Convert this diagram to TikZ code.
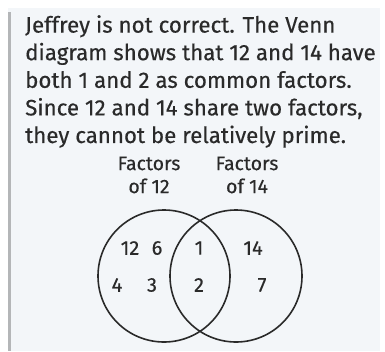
\documentclass[tikz,border=0pt]{standalone}
\usepackage{xcolor}
\usepackage{fontspec}
\setmainfont{Fira Sans}[FakeBold=0.35]
\usetikzlibrary{positioning}
\definecolor{panelfill}{HTML}{F3F6F9}
\definecolor{panelrule}{HTML}{B4B6B8}
\definecolor{inkdark}{HTML}{2A2A2A}
\tikzstyle{answer} = [anchor=north west, inner sep=0pt, align=left,
    font=\fontsize{22.3}{27.6}\selectfont, text=inkdark]
\tikzstyle{setlabel} = [inner sep=0pt, align=center,
    font=\fontsize{19.5}{23}\selectfont, text=inkdark]
\tikzstyle{setring} = [draw=inkdark, line width=1.6pt]
\tikzstyle{factor} = [inner sep=0pt, font=\fontsize{20}{22}\selectfont, text=inkdark]

\begin{document}
\begin{tikzpicture}[x=1pt, y=-1pt]
\useasboundingbox (0,0) rectangle (385,351);
\fill[panelfill] (8,8) rectangle (380,351);
\fill[panelrule] (8,12) rectangle (11,351);
\node[answer] (text) at (25,15) {Jeffrey is not correct. The Venn\\
diagram shows that 12 and 14 have\\
both 1 and 2 as common factors.\\
Since 12 and 14 share two factors,\\
they cannot be relatively prime.};
\node[setlabel] (lab12) at (149,175) {Factors\\of 12};
\node[setlabel] (lab14) at (247,175) {Factors\\of 14};
\draw[setring] (164,276) circle (66);
\draw[setring] (236,276) circle (66);
\node[factor] (f12) at (130,248) {12};
\node[factor] (f6) at (157,248) {6};
\node[factor] (f4) at (117,285) {4};
\node[factor] (f3) at (152,285) {3};
\node[factor] (f1) at (199,248) {1};
\node[factor] (f2) at (199,285) {2};
\node[factor] (f14) at (253,248) {14};
\node[factor] (f7) at (262,285) {7};
\end{tikzpicture}
\end{document}
